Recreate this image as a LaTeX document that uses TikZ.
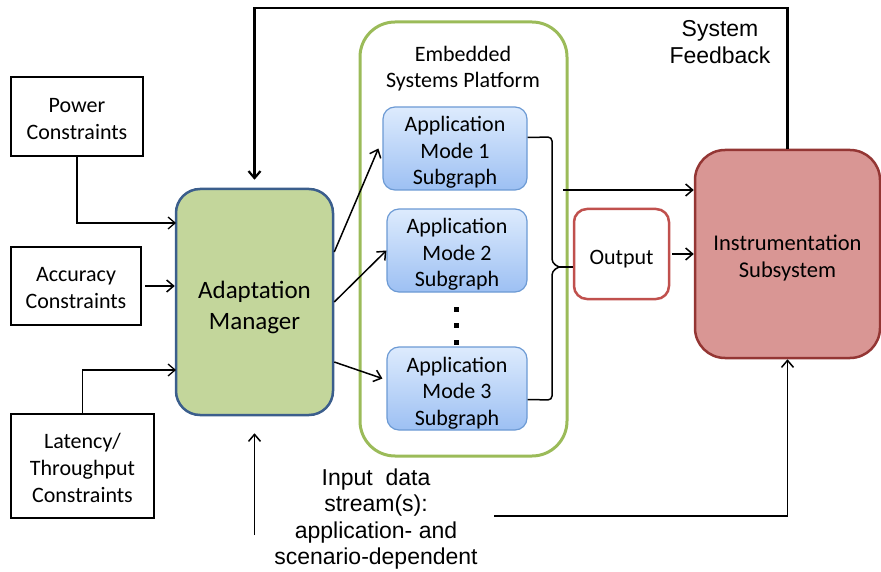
\documentclass[tikz,border=0pt]{standalone}
\usepackage{fontspec}
\setmainfont{Carlito}
\newfontfamily\arialfont{Liberation Sans}
\usetikzlibrary{arrows.meta}

\definecolor{managergreen}{HTML}{C3D69B}
\definecolor{managerblue}{HTML}{3B5E8C}
\definecolor{apptop}{HTML}{DDEBFD}
\definecolor{appbottom}{HTML}{9DC0F3}
\definecolor{appborder}{HTML}{6C9AD4}
\definecolor{platformgreen}{HTML}{9BBB59}
\definecolor{outputred}{HTML}{C0504D}
\definecolor{instrfill}{HTML}{D99694}
\definecolor{instrborder}{HTML}{943634}

\begin{document}
\begin{tikzpicture}[
    x=1pt, y=-1pt,
    >={Straight Barb[length=7pt, width=12pt]},
    constraint style/.style={draw, line width=2.5pt, align=center, inner sep=0pt, font=\fontsize{22}{27}\selectfont, text height=47pt, text depth=0pt},
    manager style/.style={draw=managerblue, fill=managergreen, line width=2.5pt, rounded corners=24pt, align=center, font=\fontsize{25}{31}\selectfont, text height=55pt, text depth=0pt},
    app style/.style={draw=appborder, top color=apptop, bottom color=appbottom, line width=1.2pt, rounded corners=12pt, align=center, font=\fontsize{22}{26.5}\selectfont, minimum width=140, minimum height=83, text height=73pt, text depth=0pt},
    platform style/.style={draw=platformgreen, line width=3pt, rounded corners=35pt},
    output style/.style={draw=outputred, fill=white, line width=2.5pt, rounded corners=13pt, font=\fontsize{22}{26}\selectfont, text height=21pt, text depth=0pt},
    instr style/.style={draw=instrborder, fill=instrfill, line width=2.5pt, rounded corners=30pt, align=center, font=\fontsize{22.5}{27}\selectfont, text height=46pt, text depth=0pt},
    label style/.style={align=center, font=\arialfont\fontsize{23}{26.5}\selectfont},
    path style/.style={line width=1.5pt, ->},
    feedback style/.style={line width=2.2pt, ->},
    brace style/.style={line width=1.5pt, rounded corners=4pt}
]

\useasboundingbox (0,0) rectangle (881,572);

% Constraint boxes on the left
\node[constraint style, minimum width=132, minimum height=79] (power) at (77,116.5) {Power\\Constraints};
\node[constraint style, minimum width=130, minimum height=78, text height=44pt] (accuracy) at (76,286) {Accuracy\\Constraints};
\node[constraint style, minimum width=143, minimum height=104, text height=73pt] (latency) at (82.5,466) {Latency/\\Throughput\\Constraints};

% Adaptation manager
\node[manager style, minimum width=157, minimum height=226] (manager) at (254.5,302) {Adaptation\\Manager};

% Platform with the mode subgraphs
\node[platform style, minimum width=207, minimum height=434] (platform) at (463.5,239) {};
\node[align=center, font=\fontsize{22}{26}\selectfont] (platformtitle) at (463,69) {Embedded\\Systems Platform};
\node[app style, minimum width=144] (app1) at (455,148.5) {Application\\Mode 1\\Subgraph};
\node[app style] (app2) at (457,250.5) {Application\\Mode 2\\Subgraph};
\node[app style] (app3) at (457,388.5) {Application\\Mode 3\\Subgraph};
\foreach \y in {307,323,340} {
    \fill (454,\y) rectangle (459,\y+5);
}

% Output and instrumentation
\node[output style, minimum width=95, minimum height=90] (output) at (621.5,254) {Output};
\node[instr style, minimum width=185, minimum height=208] (instr) at (787.5,254) {Instrumentation\\Subsystem};

% Free texts
\node[label style] (feedbacktext) at (720,42) {System\\Feedback};
\node[label style] (inputtext) at (376,519) {Input~ data\\stream(s):\\application- and\\scenario-dependent};

% Constraints into the manager
\coordinate (powerin) at (176,223);
\coordinate (latencyin) at (176,370);
\draw[path style, line width=1.3pt] (power.south) |- (powerin);
\draw[path style, shorten <=3pt] (accuracy.east) -- (accuracy.east -| manager.west);
\draw[path style, line width=1.3pt] (latency.north) |- (latencyin);

% Manager to the subgraphs
\draw[path style] ([yshift=50]manager.east) -- ([xshift=-4]app1.west);
\draw[path style] (manager.east) -- (app2.west);
\draw[path style] ([yshift=-60]manager.east) -- ([xshift=-4, yshift=10]app3.west);

% Brace collecting the subgraphs
\coordinate (bracetip) at (559,267);
\draw[brace style] ([yshift=11]app1.east) -- (552,137) -- (552,263) -- (bracetip);
\draw[brace style] ([yshift=-11]app3.east) -- (552,400) -- (552,271) -- (bracetip);
\draw[line width=1.5pt] (bracetip) -- (bracetip -| output.west);

% Towards the instrumentation
\coordinate (platformout) at (563,190);
\draw[path style] (platformout) -- (platformout -| instr.west);
\draw[path style, shorten <=2pt] (output.east) -- (output.east -| instr.west);

% Feedback loop
\coordinate (feedbackcorner) at (500,8);
\draw[feedback style, shorten >=8pt] (instr.north) |- (feedbackcorner) -| (manager.north);

% Input data streams
\coordinate (inputstart) at (254.5,535);
\coordinate (inputside) at (494,516);
\draw[path style, shorten >=17pt] (inputstart) -- (manager.south);
\draw[path style] (inputside) -| (instr.south);
\end{tikzpicture}
\end{document}
